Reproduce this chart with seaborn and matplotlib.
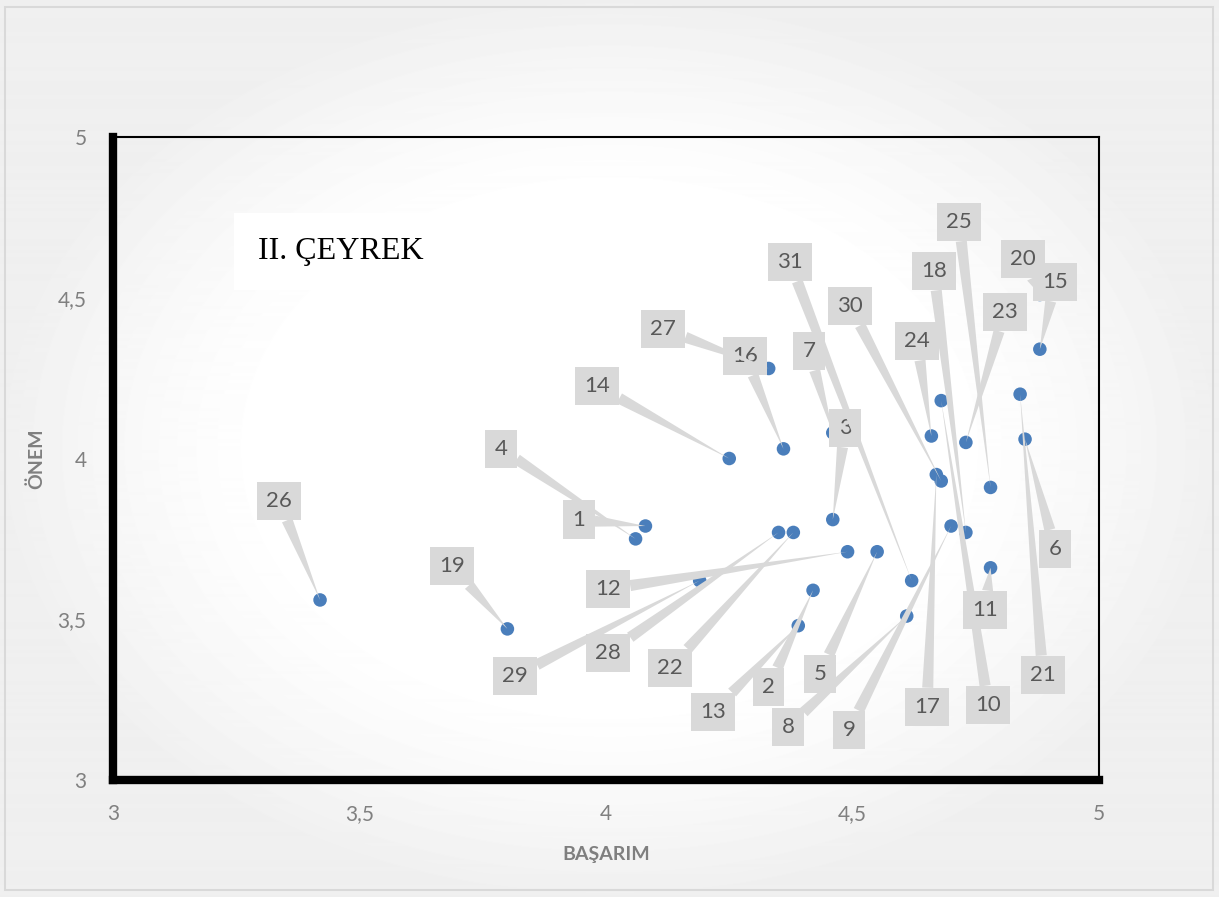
import numpy as np
import pandas as pd
import matplotlib
matplotlib.use('Agg')
import matplotlib.pyplot as plt
import seaborn as sns
from matplotlib.patches import Rectangle
from matplotlib.ticker import FuncFormatter

# Point values (BAŞARIM, ÖNEM) for items 1..31
labels = [str(i) for i in range(1, 32)]
basarim = [4.08, 4.42, 4.46, 4.06, 4.55, 4.85, 4.46, 4.61, 4.70, 4.68,
           4.78, 4.49, 4.39, 4.25, 4.88, 4.36, 4.67, 4.73, 3.80, 4.88,
           4.84, 4.38, 4.73, 4.66, 4.78, 3.42, 4.33, 4.35, 4.19, 4.68, 4.62]
onem = [3.79, 3.59, 3.81, 3.75, 3.71, 4.06, 4.08, 3.51, 3.79, 4.18,
        3.66, 3.71, 3.48, 4.00, 4.34, 4.03, 3.95, 3.77, 3.47, 4.51,
        4.20, 3.77, 4.05, 4.07, 3.91, 3.56, 4.28, 3.77, 3.62, 3.93, 3.62]

# Where each callout label sits (data coords)
label_x = [3.945, 4.33, 4.485, 3.787, 4.434, 4.911, 4.412, 4.369, 4.493, 4.775,
           4.769, 4.004, 4.217, 3.982, 4.911, 4.282, 4.651, 4.665, 3.688, 4.846,
           4.886, 4.130, 4.809, 4.631, 4.716, 3.337, 4.116, 4.004, 3.815, 4.495, 4.373]
label_y = [3.81, 3.289, 4.095, 4.03, 3.33, 3.718, 4.334, 3.165, 3.156, 3.233,
           3.529, 3.594, 3.212, 4.225, 4.549, 4.319, 3.227, 4.583, 3.666, 4.621,
           3.327, 3.348, 4.456, 4.365, 4.736, 3.868, 4.403, 3.395, 3.323, 4.474, 4.611]

ticks = [3, 3.5, 4, 4.5, 5]

df = pd.DataFrame({'BAŞARIM': basarim, 'ÖNEM': onem, 'no': labels})

sns.set_style('white')
plt.rcParams['font.family'] = ['Lato', 'DejaVu Sans']

W, H = 1219, 897
fig = plt.figure(figsize=(W / 100, H / 100), dpi=100)

# soft radial background like the Excel chart area
yy, xx = np.mgrid[0:H, 0:W]
r = np.sqrt(((xx - W / 2) / (W / 2)) ** 2 + ((yy - H / 2) / (H / 2)) ** 2)
grad = 1 - 0.06 * np.clip((r - 0.55) / 0.45, 0, 1) ** 1.3
bg = fig.add_axes([0, 0, 1, 1], zorder=-1)
bg.imshow(grad, cmap='gray', vmin=0, vmax=1, aspect='auto', extent=[0, 1, 0, 1])
bg.axis('off')
fig.patches.append(Rectangle((5 / W, 7 / H), 1208 / W, 883 / H, transform=fig.transFigure,
                             fill=False, ec='#d9d9d9', lw=1.5))

ax = fig.add_axes([113 / W, 1 - 780 / H, 986 / W, 643 / H])
ax.set_facecolor('none')

sns.scatterplot(data=df, x='BAŞARIM', y='ÖNEM', ax=ax, s=95, color='#4a7ebb',
                edgecolor='none', zorder=2)

for lab, x, y, lx, ly in zip(labels, basarim, onem, label_x, label_y):
    ax.annotate(lab, xy=(x, y), xytext=(lx, ly), textcoords='data',
                ha='center', va='center', fontsize=16, color='#595959',
                bbox=dict(boxstyle='square,pad=0.42', fc='#d9d9d9', ec='none'),
                arrowprops=dict(arrowstyle='wedge,tail_width=0.5,shrink_factor=0.5',
                                fc='#d9d9d9', ec='none', shrinkA=0, shrinkB=0),
                zorder=3)

ax.text(0.147, 0.822, 'II. ÇEYREK', transform=ax.transAxes,
        fontsize=23, family='Liberation Serif', color='black', va='center', ha='left',
        bbox=dict(boxstyle='square,pad=0.75', fc='white', ec='none'), zorder=1)

ax.set_xlim(3, 5)
ax.set_ylim(3, 5)
ax.set_xticks(ticks)
ax.set_yticks(ticks)
fmt = FuncFormatter(lambda v, p: ('%g' % v).replace('.', ','))
ax.xaxis.set_major_formatter(fmt)
ax.yaxis.set_major_formatter(fmt)
ax.tick_params(length=0, labelsize=15, labelcolor='#808080')
ax.tick_params(axis='x', pad=17)
ax.tick_params(axis='y', pad=19)

for side in ['left', 'bottom']:
    ax.spines[side].set_linewidth(6)
    ax.spines[side].set_color('black')
for side in ['top', 'right']:
    ax.spines[side].set_linewidth(1.5)
    ax.spines[side].set_color('black')
    ax.spines[side].set_visible(True)

ax.set_xlabel('BAŞARIM', fontsize=14, fontweight='bold', color='#7f7f7f', labelpad=16)
ax.set_ylabel('ÖNEM', fontsize=14, fontweight='bold', color='#7f7f7f', labelpad=9)

fig.savefig('out.png', dpi=100)
